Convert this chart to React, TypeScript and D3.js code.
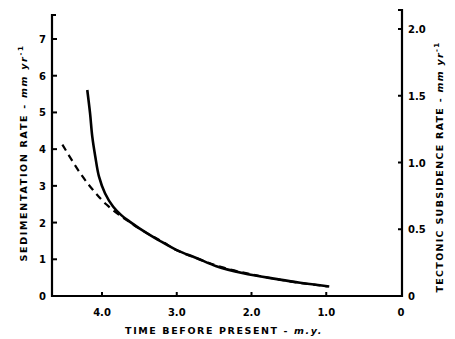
import React from "react";
import * as d3 from "d3";

// Time before present (m.y.) and sedimentation rate (mm/yr, left axis) — solid line
const sedTime = [4.197, 4.16, 4.13, 4.09, 4.04, 3.96, 3.85, 3.746, 3.625, 3.4, 3.25, 3.0, 2.73, 2.47, 2.11, 1.66, 1.35, 0.96];
const sedRate = [5.61, 4.98, 4.34, 3.8, 3.25, 2.8, 2.43, 2.21, 2.02, 1.71, 1.53, 1.25, 1.03, 0.81, 0.62, 0.46, 0.36, 0.26];

// Tectonic subsidence rate (mm/yr, right axis) — dashed line
const subTime = [4.53, 4.29, 4.12, 3.94, 3.67, 3.36, 3.18, 3.0, 2.7, 2.4, 2.0, 1.6, 1.3, 0.98];
const subRate = [1.134, 0.919, 0.794, 0.685, 0.568, 0.458, 0.403, 0.343, 0.276, 0.216, 0.162, 0.12, 0.094, 0.072];

const xTicks = [4, 3, 2, 1, 0];
const xTickLabels = ["4.0", "3.0", "2.0", "1.0", "0"];
const leftTicks = [0, 1, 2, 3, 4, 5, 6, 7];
const rightTicks = [0, 0.5, 1.0, 1.5, 2.0];
const rightTickLabels = ["0", "0.5", "1.0", "1.5", "2.0"];

const W = 455;
const H = 339;
const FONT = "'DejaVu Sans', sans-serif";

export default function App() {
  const x = d3.scaleLinear().domain([4, 0]).range([102, 401]);
  const xLeftEdge = 52;
  const xRightEdge = 402;
  const yL = d3.scaleLinear().domain([0, 7]).range([296, 39]);
  const yR = d3.scaleLinear().domain([0, 2]).range([296, 29]);

  const sedLine = d3
    .line<number>()
    .x((_, i) => x(sedTime[i]))
    .y((d) => yL(d))
    .curve(d3.curveCatmullRom.alpha(0.5))(sedRate);

  const subLine = d3
    .line<number>()
    .x((_, i) => x(subTime[i]))
    .y((d) => yR(d))
    .curve(d3.curveCatmullRom.alpha(0.5))(subRate);

  return (
    <svg width={W} height={H} style={{ position: "absolute", left: 0, top: 0, background: "#fff" }}>
      <rect width={W} height={H} fill="#fff" />
      {/* axes */}
      <path d={`M${xLeftEdge + 4},15 H${xLeftEdge} V296 H${xRightEdge} V10 H${xRightEdge - 4}`} fill="none" stroke="#000" strokeWidth={2.2} />
      {/* left ticks */}
      {leftTicks.map((t) => (
        <g key={"l" + t}>
          {t > 0 && <line x1={xLeftEdge} x2={xLeftEdge + 5} y1={yL(t)} y2={yL(t)} stroke="#000" strokeWidth={2} />}
          <text x={46} y={yL(t) + 4} textAnchor="end" fontFamily={FONT} fontWeight="bold" fontSize={10}>
            {t}
          </text>
        </g>
      ))}
      {/* right ticks */}
      {rightTicks.map((t, i) => (
        <g key={"r" + t}>
          {t > 0 && <line x1={xRightEdge - 4} x2={xRightEdge} y1={yR(t)} y2={yR(t)} stroke="#000" strokeWidth={2} />}
          <text x={408} y={yR(t) + 4} textAnchor="start" fontFamily={FONT} fontWeight="bold" fontSize={10}>
            {rightTickLabels[i]}
          </text>
        </g>
      ))}
      {/* x ticks */}
      {xTicks.map((t, i) => (
        <g key={"x" + t}>
          {t > 0 && <line x1={x(t)} x2={x(t)} y1={296} y2={292} stroke="#000" strokeWidth={2} />}
          <text x={x(t)} y={316} textAnchor="middle" fontFamily={FONT} fontWeight="bold" fontSize={10}>
            {xTickLabels[i]}
          </text>
        </g>
      ))}
      {/* curves */}
      <path d={subLine || ""} fill="none" stroke="#000" strokeWidth={2.2} strokeDasharray="7,5" />
      <path d={sedLine || ""} fill="none" stroke="#000" strokeWidth={2.6} />
      {/* titles */}
      <text x={224} y={334} textAnchor="middle" fontFamily={FONT} fontWeight="bold" fontSize={9.5} letterSpacing={1.6}>
        TIME  BEFORE  PRESENT - <tspan fontStyle="italic">m.y.</tspan>
      </text>
      <text
        transform="translate(27,153) rotate(-90)"
        textAnchor="middle"
        fontFamily={FONT}
        fontWeight="bold"
        fontSize={9.5}
        letterSpacing={1.7}
      >
        SEDIMENTATION  RATE - <tspan fontStyle="italic">mm yr</tspan>
        <tspan dy={-4} fontSize={7}>-1</tspan>
      </text>
      <text
        transform="translate(443,167) rotate(-90)"
        textAnchor="middle"
        fontFamily={FONT}
        fontWeight="bold"
        fontSize={9.5}
        letterSpacing={1.3}
      >
        TECTONIC  SUBSIDENCE  RATE - <tspan fontStyle="italic">mm yr</tspan>
        <tspan dy={-4} fontSize={7}>-1</tspan>
      </text>
    </svg>
  );
}
